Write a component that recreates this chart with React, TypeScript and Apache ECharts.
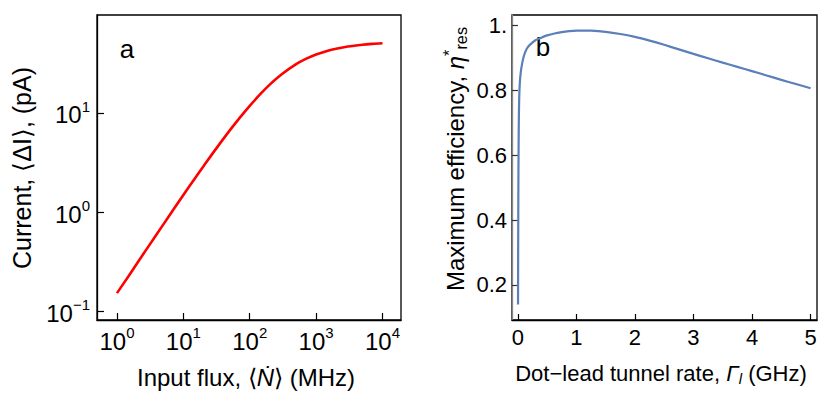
import React, { useEffect, useRef } from "react";
import * as echarts from "echarts";

// Panel a: input flux (MHz) vs current (pA), log-log
const fluxMHz = [1, 1.5, 2, 3, 5, 7, 10, 15, 20, 30, 50, 70, 100, 150, 200, 300, 500, 700, 1000, 1500, 2000, 3000, 5000, 7000, 10000];
const currentPA = [0.153, 0.228, 0.304, 0.455, 0.754, 1.05, 1.49, 2.2, 2.89, 4.22, 6.67, 8.88, 11.8, 15.9, 19.3, 24.4, 31.0, 35.0, 38.8, 42.4, 44.4, 46.7, 48.7, 49.6, 50.3];
const fluxTicks = [1, 10, 100, 1000, 10000];
const currentTicks = [0.1, 1, 10];

// Panel b: dot-lead tunnel rate (GHz) vs maximum efficiency
const tunnelRateGHz = [0.003, 0.006, 0.01, 0.015, 0.02, 0.027, 0.04, 0.06, 0.1, 0.15, 0.2, 0.3, 0.4, 0.5, 0.625, 0.75, 0.875, 1.0, 1.25, 1.5, 1.75, 2.0, 2.25, 2.5, 2.75, 3.0, 3.25, 3.5, 3.75, 4.0, 4.25, 4.5, 4.75, 5.0];
const maxEfficiency = [0.14, 0.35, 0.55, 0.68, 0.75, 0.8, 0.84, 0.87, 0.905, 0.928, 0.94, 0.955, 0.963, 0.97, 0.976, 0.98, 0.983, 0.985, 0.9845, 0.981, 0.9745, 0.9655, 0.954, 0.941, 0.927, 0.913, 0.8995, 0.886, 0.873, 0.86, 0.8465, 0.833, 0.82, 0.807];
const rateTicks = [0, 1, 2, 3, 4, 5];
const effTicks = [0.2, 0.4, 0.6, 0.8, 1];

export default function App() {
  const ref = useRef<HTMLDivElement>(null);
  useEffect(() => {
    const chart = echarts.init(ref.current!, null, { renderer: "svg" });
    const font = "'Liberation Sans', Arial, sans-serif";
    const powLabel = (v: number) => {
      const e = Math.round(Math.log10(v));
      return `{b|10}{s|${e < 0 ? "\u2212" + -e : e}}`;
    };
    const logRich = {
      b: { fontSize: 24, fontFamily: font, color: "#000", lineHeight: 28, verticalAlign: "bottom" },
      s: { fontSize: 15, fontFamily: font, color: "#000", lineHeight: 15, verticalAlign: "top" },
    };
    const textStyle = (text: string, size: number, rich?: any) => ({
      text,
      fontSize: size,
      fontFamily: font,
      fill: "#000",
      textAlign: "center",
      textVerticalAlign: "middle",
      rich,
    });
    const titleRich = (size: number) => ({
      t: { fontSize: size, fontFamily: font, fill: "#000", lineHeight: size + 4, verticalAlign: "middle" },
      i: { fontSize: size, fontFamily: font, fontStyle: "italic", fill: "#000", lineHeight: size + 4, verticalAlign: "middle" },
      sub: { fontSize: size * 0.68, fontFamily: font, fill: "#000", lineHeight: size * 0.68, verticalAlign: "bottom" },
      subi: { fontSize: size * 0.68, fontFamily: font, fontStyle: "italic", fill: "#000", lineHeight: size * 0.68, verticalAlign: "bottom" },
      sup: { fontSize: size * 0.68, fontFamily: font, fill: "#000", lineHeight: size * 0.68, verticalAlign: "top" },
    });
    chart.setOption({
      animation: false,
      backgroundColor: "#fff",
      grid: [
        { left: 97, top: 15, width: 304, height: 305, show: true, borderColor: "#000", borderWidth: 1.3, backgroundColor: "transparent" },
        { left: 512, top: 15, width: 305, height: 305, show: true, borderColor: "#000", borderWidth: 1.3, backgroundColor: "transparent" },
      ],
      xAxis: [
        {
          type: "log",
          gridIndex: 0,
          min: 0.5,
          max: 19000,
          axisLine: { onZero: false, lineStyle: { color: "#000", width: 1.3 } },
          axisTick: { inside: true, length: 7, lineStyle: { color: "#000", width: 1.2 }, customValues: fluxTicks },
          axisLabel: { customValues: fluxTicks, formatter: powLabel, rich: logRich, margin: 5 },
          splitLine: { show: false },
          minorTick: { show: false },
        },
        {
          type: "value",
          gridIndex: 1,
          min: -0.1,
          max: 5.11,
          axisLine: { onZero: false, lineStyle: { color: "#000", width: 1.3 } },
          axisTick: { inside: true, length: 6, lineStyle: { color: "#000", width: 1.2 }, customValues: rateTicks },
          axisLabel: { customValues: rateTicks, fontSize: 22, fontFamily: font, color: "#000", margin: 6, formatter: (v: number) => String(Math.round(v)) },
          splitLine: { show: false },
        },
      ],
      yAxis: [
        {
          type: "log",
          gridIndex: 0,
          min: 0.082,
          max: 97,
          axisLine: { onZero: false, lineStyle: { color: "#000", width: 1.3 } },
          axisTick: { inside: true, length: 7, lineStyle: { color: "#000", width: 1.2 }, customValues: currentTicks },
          axisLabel: { customValues: currentTicks, formatter: powLabel, rich: logRich, margin: 7 },
          splitLine: { show: false },
          minorTick: { show: false },
        },
        {
          type: "value",
          gridIndex: 1,
          min: 0.092,
          max: 1.033,
          axisLine: { onZero: false, lineStyle: { color: "#888", width: 1.3 } },
          axisTick: { inside: true, length: 6, lineStyle: { color: "#333", width: 1.2 }, customValues: effTicks },
          axisLabel: {
            customValues: effTicks,
            fontSize: 22,
            fontFamily: font,
            color: "#000",
            margin: 5,
            formatter: (v: number) => (Math.abs(v - 1) < 1e-9 ? "1." : v.toFixed(1)),
          },
          splitLine: { show: false },
        },
      ],
      series: [
        {
          type: "line",
          xAxisIndex: 0,
          yAxisIndex: 0,
          data: fluxMHz.map((x, i) => [x, currentPA[i]]),
          showSymbol: false,
          smooth: 0.3,
          lineStyle: { color: "#ff0000", width: 2.6 },
        },
        {
          type: "line",
          xAxisIndex: 1,
          yAxisIndex: 1,
          data: tunnelRateGHz.map((x, i) => [x, maxEfficiency[i]]),
          showSymbol: false,
          smooth: 0.2,
          lineStyle: { color: "#5b7fb8", width: 2.2 },
        },
      ],
      graphic: [
        { type: "text", x: 22, y: 168, rotation: Math.PI / 2, style: textStyle("Current, \u27e8\u0394I\u27e9, (pA)", 25) },
        { type: "text", x: 246, y: 377, style: textStyle("{t|Input flux, \u27e8}{i|\u1e44}{t|\u27e9 (MHz)}", 24, titleRich(24)) },
        { type: "text", x: 455, y: 159, rotation: Math.PI / 2, style: textStyle("{t|Maximum efficiency, }{i|\u03b7}{sup|*}{sub|res}", 24, titleRich(24)) },
        { type: "text", x: 661, y: 373, style: textStyle("{t|Dot\u2212lead tunnel rate, }{i|\u0393}{subi|l}{t| (GHz)}", 22, titleRich(22)) },
        { type: "text", x: 127, y: 49, style: textStyle("a", 26) },
        { type: "text", x: 543, y: 47, style: textStyle("b", 26) },
      ],
    });
    return () => chart.dispose();
  }, []);
  return <div ref={ref} style={{ position: "fixed", left: 0, top: 0, width: 830, height: 419 }} />;
}
